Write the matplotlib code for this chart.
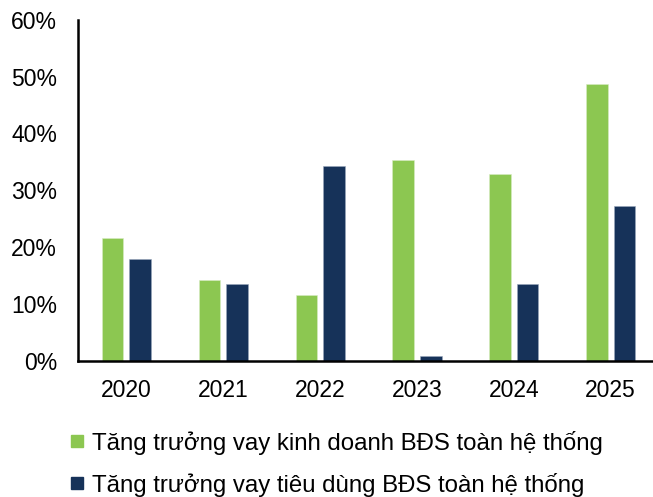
import numpy as np
import matplotlib
matplotlib.use("Agg")
import matplotlib.pyplot as plt
from matplotlib.lines import Line2D
from matplotlib.ticker import FuncFormatter

plt.rcParams['font.family'] = ['Liberation Sans', 'DejaVu Sans']

years = ['2020', '2021', '2022', '2023', '2024', '2025']
kinh_doanh = [21.5, 14.2, 11.5, 35.3, 32.9, 48.7]
tieu_dung = [17.9, 13.5, 34.3, 0.8, 13.4, 27.2]
labels = ['Tăng trưởng vay kinh doanh BĐS toàn hệ thống',
          'Tăng trưởng vay tiêu dùng BĐS toàn hệ thống']

green = '#8cc751'
navy = '#163259'

fig = plt.figure(figsize=(6.53, 4.97), dpi=100)
ax = fig.add_axes([0.1194, 0.2746, 0.89, 0.6852])

x = np.arange(len(years))
w = 0.223
off = 0.142
ax.bar(x - off, kinh_doanh, w, color=green, edgecolor='#d8ecc4', linewidth=0.4)
ax.bar(x + off, tieu_dung, w, color=navy, edgecolor='#9aa8bc', linewidth=0.4)

ax.set_ylim(0, 60)
ax.set_xlim(-0.5, 5.5)
ax.set_yticks(range(0, 61, 10))
ax.yaxis.set_major_formatter(FuncFormatter(lambda v, p: f'{v:.0f}%'))
ax.set_xticks(x)
ax.set_xticklabels(years)
ax.tick_params(axis='both', length=0, labelsize=16.5, colors='black')
ax.tick_params(axis='y', pad=15)
ax.tick_params(axis='x', pad=13)

for s in ['top', 'right']:
    ax.spines[s].set_visible(False)
for s in ['left', 'bottom']:
    ax.spines[s].set_linewidth(1.8)
    ax.spines[s].set_color('black')

handles = [Line2D([], [], marker='s', linestyle='none', markersize=8.0,
                  markerfacecolor=c, markeredgecolor=c) for c in (green, navy)]
fig.legend(handles, labels, loc='upper left', bbox_to_anchor=(0.09, 0.153),
           frameon=False, fontsize=17.3, handlelength=0.7, handletextpad=0.3,
           labelspacing=0.76, borderaxespad=0)

fig.savefig('out.png', dpi=100, facecolor='white')
